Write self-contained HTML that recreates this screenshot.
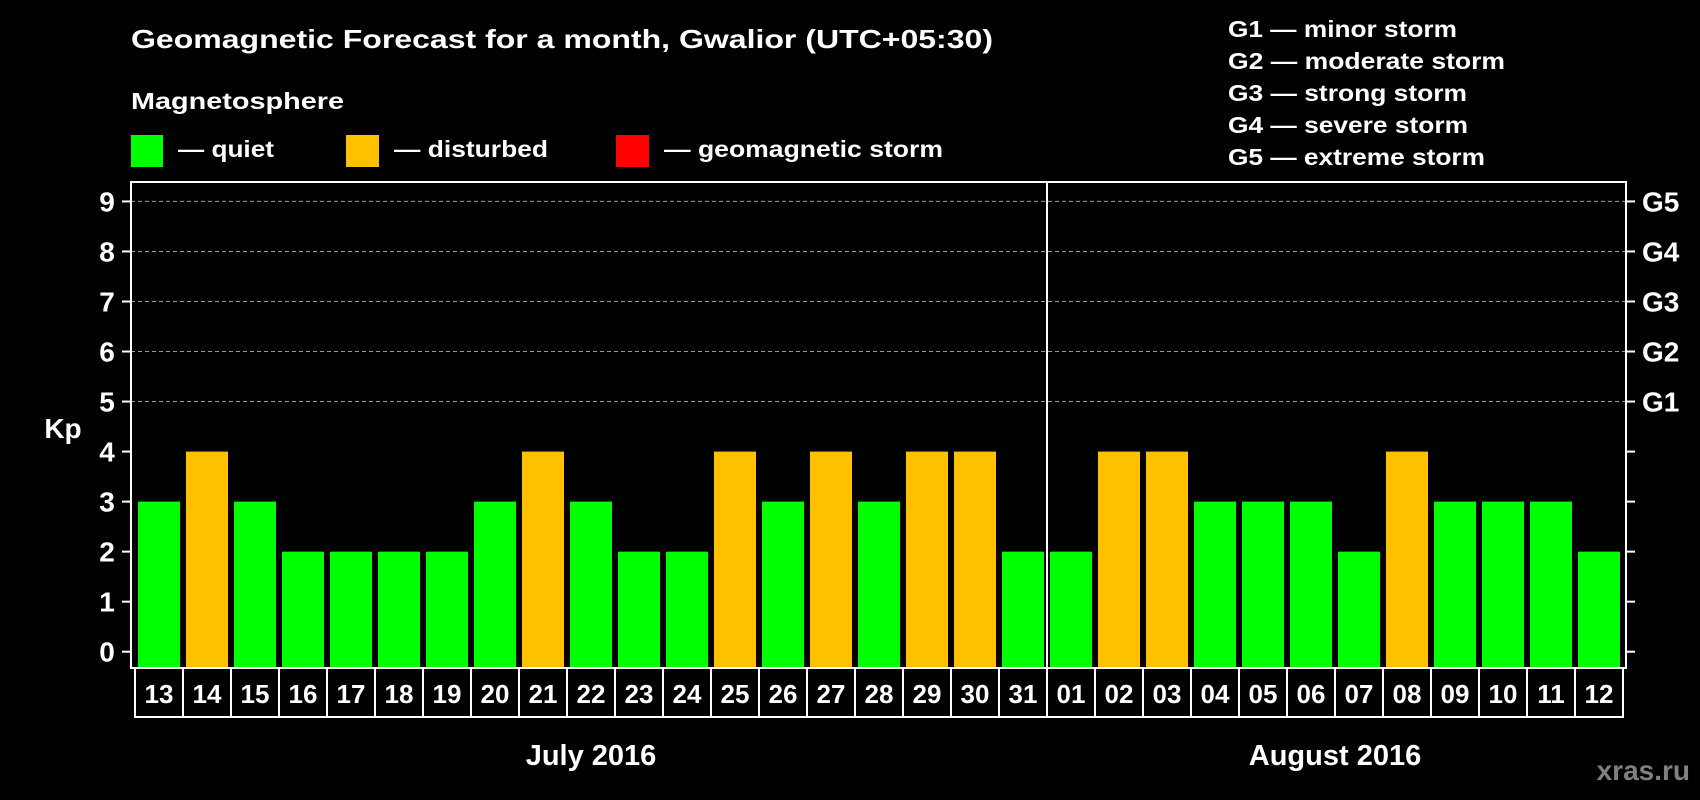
<!DOCTYPE html>
<html><head><meta charset="utf-8"><style>
html,body{margin:0;padding:0;background:#000;}
svg{display:block;font-family:"Liberation Sans",sans-serif;font-weight:bold;}
</style></head><body>
<svg id="chart" width="1700" height="800" viewBox="0 0 1700 800" xmlns="http://www.w3.org/2000/svg">
<rect width="1700" height="800" fill="#000"/>
<text x="131" y="48" fill="#fff" font-size="26" textLength="862" lengthAdjust="spacingAndGlyphs">Geomagnetic Forecast for a month, Gwalior (UTC+05:30)</text>
<text x="131" y="109" fill="#fff" font-size="23" textLength="213" lengthAdjust="spacingAndGlyphs">Magnetosphere</text>
<g>
<rect x="131" y="135" width="32" height="32" fill="#00ff00"/>
<text x="178" y="157" fill="#fff" font-size="23" textLength="96" lengthAdjust="spacingAndGlyphs">— quiet</text></g>
<g>
<rect x="346" y="135" width="33" height="32" fill="#ffc000"/>
<text x="394" y="157" fill="#fff" font-size="23" textLength="154" lengthAdjust="spacingAndGlyphs">— disturbed</text></g>
<g>
<rect x="616" y="135" width="33" height="32" fill="#ff0000"/>
<text x="664" y="157" fill="#fff" font-size="23" textLength="279" lengthAdjust="spacingAndGlyphs">— geomagnetic storm</text></g>
<g fill="#fff" font-size="23">
<text x="1228" y="37" textLength="229" lengthAdjust="spacingAndGlyphs">G1 — minor storm</text>
<text x="1228" y="69" textLength="277" lengthAdjust="spacingAndGlyphs">G2 — moderate storm</text>
<text x="1228" y="101" textLength="239" lengthAdjust="spacingAndGlyphs">G3 — strong storm</text>
<text x="1228" y="133" textLength="240" lengthAdjust="spacingAndGlyphs">G4 — severe storm</text>
<text x="1228" y="165" textLength="257" lengthAdjust="spacingAndGlyphs">G5 — extreme storm</text>
</g>
<text x="63" y="438" fill="#fff" font-size="28" text-anchor="middle">Kp</text>
<g id="grid"></g><g id="bars"></g><g id="axes"></g>
<text x="1690" y="780" fill="#808080" font-size="28" text-anchor="end">xras.ru</text>
</svg>
<script>
const days = ["13","14","15","16","17","18","19","20","21","22","23","24","25","26","27","28","29","30","31","01","02","03","04","05","06","07","08","09","10","11","12"];
const kpValues = [3,4,3,2,2,2,2,3,4,3,2,2,4,3,4,3,4,4,2,2,4,4,3,3,3,2,4,3,3,3,2];
const months = ["July 2016","August 2016"];
const monthStartIdx = [0,19];
const yTicks = [0,1,2,3,4,5,6,7,8,9];
const gLabels = ["","","","","","G1","G2","G3","G4","G5"];

const NS="http://www.w3.org/2000/svg";
const plotL=131, plotR=1626, plotT=182, plotB=668;
const y0=651.7, unit=50.03, x0=138, pitch=48, bw=42;
const yS=v=>y0-v*unit;
const xS=i=>x0+i*pitch;
function mk(tag,attrs,parent){const e=document.createElementNS(NS,tag);for(const k in attrs)e.setAttribute(k,attrs[k]);parent.appendChild(e);return e;}
const grid=document.getElementById('grid'), bars=document.getElementById('bars'), axes=document.getElementById('axes');

yTicks.forEach((t,i)=>{
  const y=yS(t);
  if(t>=5){const l=mk('line',{x1:plotL,x2:plotR,y1:y,y2:y,stroke:'#999','stroke-width':1,'stroke-dasharray':'4,3'},grid);
    
    }
  mk('line',{x1:plotL-9,x2:plotL,y1:y,y2:y,stroke:'#fff','stroke-width':2},axes);
  mk('line',{x1:plotR,x2:plotR+9,y1:y,y2:y,stroke:'#fff','stroke-width':2},axes);
  const tl=mk('text',{x:107,y:y+10,fill:'#fff','font-size':28,'text-anchor':'middle'},axes);
  tl.textContent=t;
  
  
  if(gLabels[i]){const g=mk('text',{x:1642,y:y+10,fill:'#fff','font-size':28},axes);
    g.textContent=gLabels[i];
    
    }
});

kpValues.forEach((v,i)=>{
  const col=v>=5?'#ff0000':(v>=4?'#ffc000':'#00ff00');
  const r=mk('rect',{x:xS(i),y:yS(v),width:bw,height:plotB-yS(v),fill:col},bars);
  
  
  const bx=mk('rect',{x:xS(i)-3,y:plotB,width:pitch,height:49,fill:'none',stroke:'#fff','stroke-width':2},axes);
  
  
  const dt=mk('text',{x:xS(i)+bw/2,y:plotB+35,fill:'#fff','font-size':26,'text-anchor':'middle'},axes);
  dt.textContent=days[i];
  
  
});

const frame=mk('rect',{x:plotL,y:plotT,width:plotR-plotL,height:plotB-plotT,fill:'none',stroke:'#fff','stroke-width':2},axes);



months.forEach((m,k)=>{
  const s=monthStartIdx[k], e=(k+1<monthStartIdx.length?monthStartIdx[k+1]:days.length)-1;
  const cx=(xS(s)+xS(e)+bw)/2;
  const t=mk('text',{x:cx,y:765,fill:'#fff','font-size':29,'text-anchor':'middle'},axes);
  t.textContent=m;
  
  
  if(s>0){const dx=xS(s)-3;
    const l=mk('line',{x1:dx,x2:dx,y1:plotT,y2:plotB,stroke:'#fff','stroke-width':2},axes);
    
    }
});
</script>
</body></html>
